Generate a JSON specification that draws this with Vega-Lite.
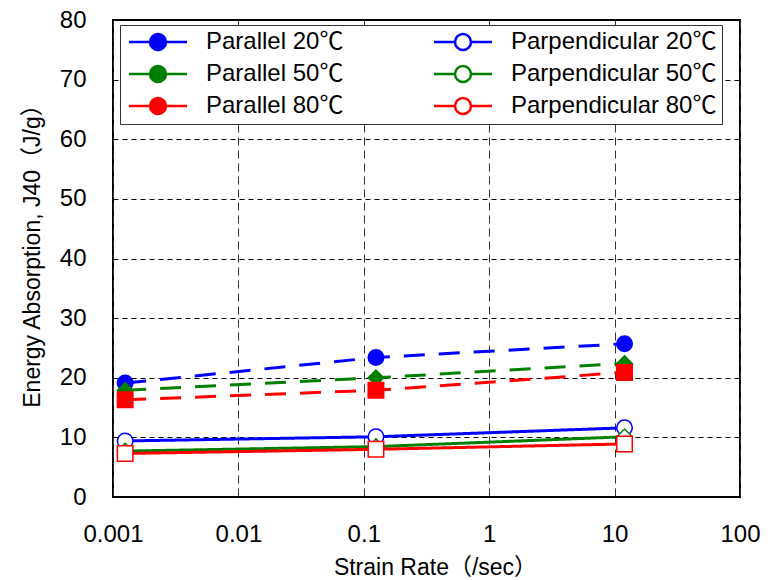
{
  "$schema": "https://vega.github.io/schema/vega-lite/v6.json",
  "autosize": {"type": "none"},
  "padding": {"left": 113, "top": 20, "right": 31, "bottom": 83},
  "width": 627,
  "height": 477,
  "background": "white",
  "config": {
    "font": "Liberation Sans, Arial, Noto Sans CJK JP",
    "view": {"stroke": "black", "strokeWidth": 2},
    "axis": {"labelFont": "Liberation Sans, Arial, Noto Sans CJK JP", "titleFont": "Liberation Sans, Arial, Noto Sans CJK JP", "labelColor": "black", "titleColor": "black", "titleFontWeight": "normal"}
  },
  "data": {
    "values": [
      {"series": "Parallel 20℃", "orient": "Parallel", "temp": "20℃", "rate": 0.00125, "energy": 19.1},
      {"series": "Parallel 20℃", "orient": "Parallel", "temp": "20℃", "rate": 0.125, "energy": 23.4},
      {"series": "Parallel 20℃", "orient": "Parallel", "temp": "20℃", "rate": 12, "energy": 25.7},
      {"series": "Parallel 50℃", "orient": "Parallel", "temp": "50℃", "rate": 0.00125, "energy": 17.9},
      {"series": "Parallel 50℃", "orient": "Parallel", "temp": "50℃", "rate": 0.125, "energy": 20.0},
      {"series": "Parallel 50℃", "orient": "Parallel", "temp": "50℃", "rate": 12, "energy": 22.4},
      {"series": "Parallel 80℃", "orient": "Parallel", "temp": "80℃", "rate": 0.00125, "energy": 16.3},
      {"series": "Parallel 80℃", "orient": "Parallel", "temp": "80℃", "rate": 0.125, "energy": 17.9},
      {"series": "Parallel 80℃", "orient": "Parallel", "temp": "80℃", "rate": 12, "energy": 20.9},
      {"series": "Parpendicular 20℃", "orient": "Parpendicular", "temp": "20℃", "rate": 0.00125, "energy": 9.4},
      {"series": "Parpendicular 20℃", "orient": "Parpendicular", "temp": "20℃", "rate": 0.125, "energy": 10.1},
      {"series": "Parpendicular 20℃", "orient": "Parpendicular", "temp": "20℃", "rate": 12, "energy": 11.6},
      {"series": "Parpendicular 50℃", "orient": "Parpendicular", "temp": "50℃", "rate": 0.00125, "energy": 7.7},
      {"series": "Parpendicular 50℃", "orient": "Parpendicular", "temp": "50℃", "rate": 0.125, "energy": 8.45},
      {"series": "Parpendicular 50℃", "orient": "Parpendicular", "temp": "50℃", "rate": 12, "energy": 10.1},
      {"series": "Parpendicular 80℃", "orient": "Parpendicular", "temp": "80℃", "rate": 0.00125, "energy": 7.3},
      {"series": "Parpendicular 80℃", "orient": "Parpendicular", "temp": "80℃", "rate": 0.125, "energy": 8.0},
      {"series": "Parpendicular 80℃", "orient": "Parpendicular", "temp": "80℃", "rate": 12, "energy": 8.9}
    ]
  },
  "encoding": {
    "x": {
      "field": "rate", "type": "quantitative",
      "scale": {"type": "log", "domain": [0.001, 100], "nice": false},
      "axis": {
        "title": "Strain Rate（/sec）",
        "values": [0.001, 0.01, 0.1, 1, 10, 100],
        "format": "~g",
        "labelFontSize": 24,
        "labelPadding": 37,
        "labelBaseline": "middle",
        "labelFlush": false,
        "labelOverlap": false,
        "ticks": false,
        "tickSize": 0,
        "domain": false,
        "grid": true,
        "gridColor": "#333333",
        "gridDash": [8, 5],
        "gridWidth": 1,
        "gridOpacity": 1,
        "titleFontSize": 23,
        "titleX": 322,
        "titleY": 70,
        "titleBaseline": "middle",
        "titleAlign": "center"
      }
    },
    "y": {
      "field": "energy", "type": "quantitative",
      "scale": {"domain": [0, 80], "nice": false, "zero": true},
      "axis": {
        "title": "Energy Absorption, J40（J/g）",
        "values": [0, 10, 20, 30, 40, 50, 60, 70, 80],
        "labelFontSize": 24,
        "labelPadding": 27,
        "labelFlush": false,
        "labelOverlap": false,
        "ticks": false,
        "tickSize": 0,
        "domain": false,
        "grid": true,
        "gridColor": "black",
        "gridDash": [5, 4],
        "gridWidth": 1,
        "gridOpacity": 1,
        "titleFontSize": 23,
        "titleX": -81,
        "titleY": 230,
        "titleBaseline": "middle",
        "titleAlign": "center",
        "titleAngle": -90
      }
    }
  },
  "layer": [
    {
      "mark": {"type": "line", "strokeWidth": 3},
      "encoding": {
        "stroke": {
          "field": "series", "type": "nominal",
          "scale": {
            "domain": ["Parallel 20℃", "Parallel 50℃", "Parallel 80℃", "Parpendicular 20℃", "Parpendicular 50℃", "Parpendicular 80℃"],
            "range": ["#0000FF", "#008000", "#FF0000", "#0000FF", "#008000", "#FF0000"]
          }
        },
        "strokeDash": {
          "field": "orient", "type": "nominal", "legend": null,
          "scale": {"domain": ["Parallel", "Parpendicular"], "range": [[21, 14], [1, 0]]}
        }
      }
    },
    {
      "mark": {"type": "point", "size": 240, "strokeWidth": 1.5, "opacity": 1},
      "encoding": {
        "stroke": {
          "field": "series", "type": "nominal",
          "scale": {
            "domain": ["Parallel 20℃", "Parallel 50℃", "Parallel 80℃", "Parpendicular 20℃", "Parpendicular 50℃", "Parpendicular 80℃"],
            "range": ["#0000FF", "#008000", "#FF0000", "#0000FF", "#008000", "#FF0000"]
          },
          "legend": {
            "title": null,
            "orient": "none",
            "legendX": 7,
            "legendY": 5,
            "columns": 2,
            "columnPadding": 85,
            "rowPadding": 6,
            "padding": 5,
            "fillColor": "white",
            "strokeColor": "#333333",
            "cornerRadius": 0,
            "symbolType": "M-0.8,0L1.3,0M2.9,0L5,0M2.9,0A0.8,0.8,0,1,1,1.3,0A0.8,0.8,0,1,1,2.9,0Z",
            "symbolSize": 400,
            "symbolStrokeWidth": 2.5,
            "symbolOpacity": 1,
            "symbolOffset": 0,
            "labelOffset": 57,
            "labelFontSize": 24,
            "labelFont": "Liberation Sans, Arial, Noto Sans CJK JP",
            "labelColor": "black",
            "labelLimit": 400,
            "gridAlign": "each",
            "encode": {
              "legend": {
                "strokeWidth": {"value": 1.5}
              }
            }
          }
        },
        "fill": {
          "field": "series", "type": "nominal",
          "scale": {
            "domain": ["Parallel 20℃", "Parallel 50℃", "Parallel 80℃", "Parpendicular 20℃", "Parpendicular 50℃", "Parpendicular 80℃"],
            "range": ["#0000FF", "#008000", "#FF0000", "white", "white", "white"]
          }
        },
        "shape": {
          "field": "temp", "type": "nominal", "legend": null,
          "scale": {
            "domain": ["20℃", "50℃", "80℃"],
            "range": ["circle", "diamond", "square"]
          }
        }
      }
    }
  ]
}
